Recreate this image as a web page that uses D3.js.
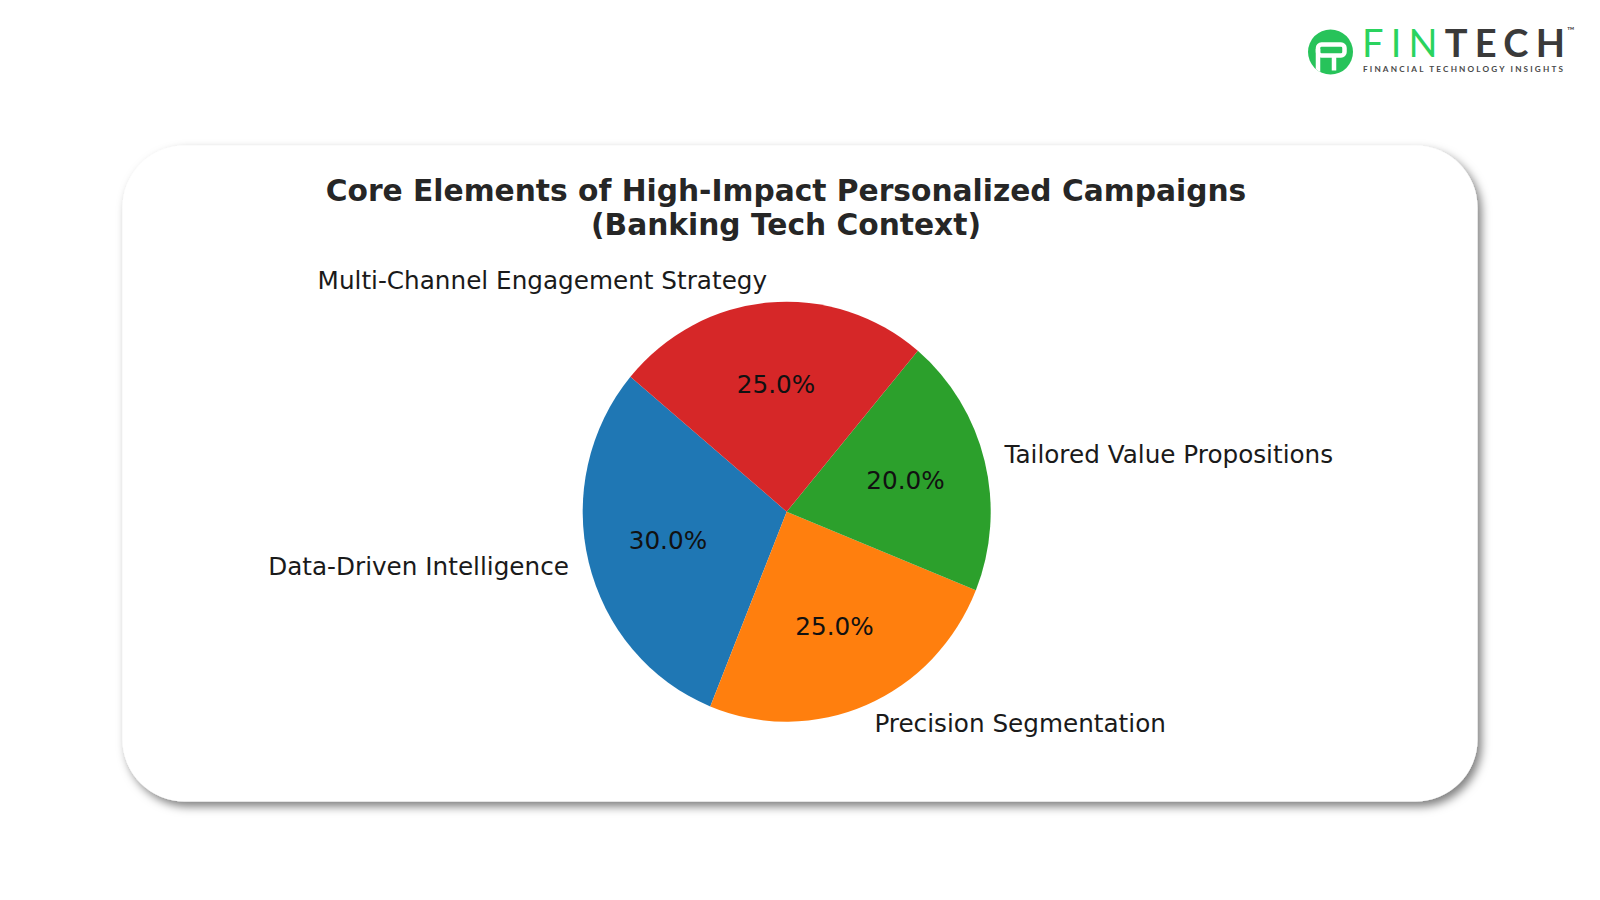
<!DOCTYPE html>
<html>
<head>
<meta charset="utf-8">
<script src="https://cdn.jsdelivr.net/npm/d3@7"></script>
<style>
  html, body { margin: 0; padding: 0; background: #ffffff; }
  svg { display: block; }
</style>
</head>
<body>
<svg id="chart" width="1600" height="900"></svg>
<script>
// ---- data ----
const categories = ["Data-Driven Intelligence", "Precision Segmentation", "Tailored Value Propositions", "Multi-Channel Engagement Strategy"];
const values = [30, 25, 20, 25];
const colors = ["#1f77b4", "#ff7f0e", "#2ca02c", "#d62728"];
const titleLines = ["Core Elements of High-Impact Personalized Campaigns", "(Banking Tech Context)"];
const logoWords = ["FIN", "TECH"];
const logoTagline = "FINANCIAL TECHNOLOGY INSIGHTS";

// ---- layout ----
const W = 1600, H = 900;
const svg = d3.select("#chart");
const defs = svg.append("defs");

const f = defs.append("filter").attr("id", "shadow")
  .attr("x", "-5%").attr("y", "-8%").attr("width", "112%").attr("height", "118%");
f.append("feDropShadow").attr("dx", 4).attr("dy", 5).attr("stdDeviation", 5)
  .attr("flood-color", "#000").attr("flood-opacity", 0.5);

// card
svg.append("rect")
  .attr("x", 122.5).attr("y", 145.5).attr("width", 1355).attr("height", 656)
  .attr("rx", 62).attr("ry", 62)
  .attr("fill", "#ffffff")
  .attr("filter", "url(#shadow)");

// title
const title = svg.append("text")
  .attr("x", 786).attr("y", 190)
  .attr("text-anchor", "middle")
  .attr("font-family", "DejaVu Sans")
  .attr("font-weight", "bold")
  .attr("font-size", 29.7)
  .attr("fill", "#262626");
titleLines.forEach((t, i) => {
  title.append("tspan").attr("x", 786).attr("y", 190 + i * 34.5)
    .attr("dominant-baseline", "central").text(t);
});

// pie
const cx = 786.7, cy = 511.7, rx = 204, ry = 210;
const pie = d3.pie().sort(null).value(d => d)
  .startAngle(-50 * Math.PI / 180)
  .endAngle(-50 * Math.PI / 180 - 2 * Math.PI);
const arcs = pie(values);
const arcGen = d3.arc().innerRadius(0).outerRadius(rx);

const pg = svg.append("g")
  .attr("transform", `translate(${cx},${cy}) scale(1,${ry / rx})`);
pg.selectAll("path").data(arcs).join("path")
  .attr("d", arcGen)
  .attr("fill", (d, i) => colors[i]);

const pos = (d, k) => {
  const a = (d.startAngle + d.endAngle) / 2;
  return [cx + k * rx * Math.sin(a), cy - k * ry * Math.cos(a), Math.sin(a)];
};

// category labels
svg.selectAll("text.lab").data(arcs).join("text")
  .attr("class", "lab")
  .attr("x", d => pos(d, 1.1)[0])
  .attr("y", d => pos(d, 1.1)[1] - 1.2)
  .attr("text-anchor", d => pos(d, 1.1)[2] >= 0 ? "start" : "end")
  .attr("dominant-baseline", "central")
  .attr("font-family", "DejaVu Sans")
  .attr("font-size", 24.7)
  .attr("fill", "#1a1a1a")
  .text((d, i) => categories[i]);

// percent labels
const total = d3.sum(values);
svg.selectAll("text.pct").data(arcs).join("text")
  .attr("class", "pct")
  .attr("x", d => pos(d, 0.6)[0])
  .attr("y", d => pos(d, 0.6)[1] - 1.2)
  .attr("text-anchor", "middle")
  .attr("dominant-baseline", "central")
  .attr("font-family", "DejaVu Sans")
  .attr("font-size", 24.7)
  .attr("fill", "#111")
  .text(d => (d.value / total * 100).toFixed(1) + "%");

// ---- logo ----
const logo = svg.append("g");
const green = "#27c35a";
defs.append("clipPath").attr("id", "iconclip")
  .append("circle").attr("cx", 1330.5).attr("cy", 52).attr("r", 22.5);
logo.append("circle").attr("cx", 1330.5).attr("cy", 52).attr("r", 22.5).attr("fill", green);
const ig = logo.append("g").attr("clip-path", "url(#iconclip)")
  .attr("stroke", "#fff").attr("stroke-width", 4.5).attr("fill", "none");
ig.append("rect").attr("x", 1318).attr("y", 44.5).attr("width", 26.5).attr("height", 11).attr("rx", 3.5);
ig.append("line").attr("x1", 1318).attr("y1", 49).attr("x2", 1318).attr("y2", 80);
ig.append("line").attr("x1", 1334).attr("y1", 55).attr("x2", 1334).attr("y2", 70.5);

const lt = logo.append("text")
  .attr("x", 1362).attr("y", 57)
  .attr("font-family", "Lato")
  .attr("font-size", 38)
  .attr("textLength", 203)
  .attr("lengthAdjust", "spacing");
lt.append("tspan").attr("fill", "#2ad35e").attr("font-weight", 400).text(logoWords[0]);
lt.append("tspan").attr("fill", "#3a3a3a").attr("font-weight", 700).text(logoWords[1]);
logo.append("text").attr("x", 1567).attr("y", 34)
  .attr("font-family", "Lato").attr("font-size", 10).attr("fill", "#3a3a3a").text("™");
logo.append("text")
  .attr("x", 1363).attr("y", 71.5)
  .attr("font-family", "Lato").attr("font-weight", 700)
  .attr("font-size", 8.2).attr("fill", "#4a4a4a")
  .attr("textLength", 200).attr("lengthAdjust", "spacing")
  .text(logoTagline);
</script>
</body>
</html>
